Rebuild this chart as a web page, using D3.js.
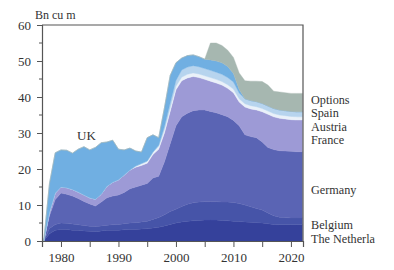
<!DOCTYPE html>
<html>
<head>
<meta charset="utf-8">
<script src="https://cdn.jsdelivr.net/npm/d3@7"></script>
<style>
body { margin: 0; background: #fff; }
text { font-family: "Liberation Serif", "DejaVu Serif", serif; fill: #333; }
</style>
</head>
<body>
<div id="main"></div>
<script>
var years = [1977, 1978, 1979, 1980, 1981, 1982, 1983, 1984, 1985, 1986,
             1987, 1988, 1989, 1990, 1991, 1992, 1993, 1994, 1995, 1996,
             1997, 1998, 1999, 2000, 2001, 2002, 2003, 2004, 2005, 2006,
             2007, 2008, 2009, 2010, 2011, 2012, 2013, 2014, 2015, 2016,
             2017, 2018, 2019, 2020, 2021, 2022];

// Bn cu m per year, bottom of the stack first
var netherlands = [0, 2, 3, 3.2, 3.2, 3, 3, 2.8, 2.7, 2.6,
                   2.8, 3, 3, 3, 3.1, 3.2, 3.2, 3.3, 3.4, 3.6,
                   3.8, 4.2, 4.6, 5, 5.3, 5.5, 5.6, 5.7, 5.8, 5.8,
                   5.8, 5.7, 5.6, 5.5, 5.4, 5.3, 5.2, 5.1, 5, 4.8,
                   4.6, 4.5, 4.5, 4.5, 4.5, 4.5];
var belgium = [0, 1.5, 1.6, 1.8, 1.7, 1.7, 1.5, 1.5, 1.4, 1.4,
               1.4, 1.4, 1.5, 1.6, 1.7, 1.8, 1.9, 2, 2.1, 2.4,
               2.7, 3.1, 3.6, 3.8, 4.3, 4.7, 5, 5.1, 5.1, 5.1,
               5.1, 5.1, 5.2, 5.2, 5, 4.7, 4.3, 3.9, 3.6, 3,
               2.4, 2.1, 2, 1.9, 1.9, 1.9];
var germany = [0, 3.5, 6.9, 8.3, 8.1, 7.8, 7.3, 6.7, 6.2, 5.7,
               6.6, 7.6, 8, 8.2, 8.7, 9.5, 9.9, 10.2, 10.5, 11.5,
               11.5, 14.7, 18.8, 23.2, 24.9, 25.3, 25.6, 25.6, 25.5, 25.1,
               24.7, 24.3, 23.7, 22.8, 21.6, 19.5, 19.5, 19.7, 18.9, 18.2,
               18.4, 18.5, 18.5, 18.5, 18.4, 18.4];
var france = [0, 1, 1.8, 1.7, 1.8, 1.8, 1.8, 1.8, 1.7, 1.9,
              2.2, 3.2, 3.8, 4.2, 4.8, 5.2, 5.5, 5.5, 5.6, 6.5,
              7.5, 8, 9, 10, 10, 9.8, 9.5, 9, 8.5, 8.4,
              8.3, 8.2, 7.9, 7.7, 6.6, 7.7, 7.7, 7.7, 8.4, 9.2,
              9.1, 9, 8.9, 8.8, 8.8, 8.8];
var austria = [0, 0, 0, 0, 0, 0, 0, 0, 0, 0,
               0, 0, 0, 0, 0, 0, 0.3, 0.5, 0.6, 0.7,
               0.8, 1, 1, 1, 1, 1, 1, 1, 1, 1,
               1, 1, 1, 1, 0.9, 0.9, 0.9, 0.9, 0.9, 0.9,
               0.9, 0.9, 0.9, 0.9, 0.9, 0.9];
var spain = [0, 0, 0, 0, 0, 0, 0, 0, 0, 0,
             0, 0, 0, 0, 0, 0, 0, 0, 0, 0,
             0.3, 0.8, 1.3, 1.6, 2, 2, 2, 2, 2, 2,
             2, 2, 2, 2, 1.6, 1.4, 1.4, 1.4, 1.4, 1.4,
             1.4, 1.4, 1.4, 1.4, 1.4, 1.4];
var uk = [0, 8, 11.2, 10.3, 10.4, 10.1, 11.9, 13.4, 13.3, 14.4,
          14.3, 12.3, 11.7, 8.5, 7, 6.1, 4.2, 3.2, 6.5, 4.8,
          2.1, 5.2, 7.7, 4.9, 3.3, 3.2, 3, 2.8, 2.6, 2.9,
          3.1, 3.2, 3.1, 2.3, 1, 0, 0, 0, 0, 0,
          0, 0, 0, 0, 0, 0];
var options = [0, 0, 0, 0, 0, 0, 0, 0, 0, 0,
               0, 0, 0, 0, 0, 0, 0, 0, 0, 0,
               0, 0, 0, 0, 0, 0, 0, 0, 0, 4.7,
               5, 4.8, 4.5, 4.5, 4.6, 5, 5.4, 5.7, 6.1, 5.8,
               4.8, 5, 5, 5, 5.1, 5.1];

var keys = ["netherlands", "belgium", "germany", "france", "austria", "spain", "uk", "options"];
var y_ticks = [0, 10, 20, 30, 40, 50, 60];
var x_ticks = [1980, 1985, 1990, 1995, 2000, 2005, 2010, 2015, 2020];
var legend_names = ["Options", "Spain", "Austria", "France", "Germany", "Belgium", "The Netherla"];

var vis = function(root) {
    var width = 394, height = 270;
    var left = 42, right = 303, top = 25, bottom = 241;
    var serif = "'Liberation Serif', 'DejaVu Serif', serif";

    var series = {netherlands: netherlands, belgium: belgium, germany: germany,
                  france: france, austria: austria, spain: spain, uk: uk, options: options};
    var table = years.map(function(yr, i) {
        var row = {year: yr};
        keys.forEach(function(k) { row[k] = series[k][i]; });
        return row;
    });

    var color = d3.scaleOrdinal()
            .domain(keys)
            .range(["#35419b", "#4654a8", "#5a64b4", "#9d9ad6",
                    "#eaf1f9", "#b7d4ee", "#70afe2", "#a6b7b0"]);

    var x = d3.scaleLinear().domain([1976.7, 2022.1]).range([left, right]);
    var y = d3.scaleLinear().domain([0, 60]).range([bottom, top]);

    var svg = root.append("svg")
            .attr("width", width)
            .attr("height", height);

    var stacked = d3.stack().keys(keys)(table);
    var area = d3.area()
            .x(function(d) { return x(d.data.year); })
            .y0(function(d) { return y(d[0]); })
            .y1(function(d) { return y(d[1]); });

    svg.append("g")
        .selectAll("path")
        .data(stacked)
        .enter()
        .append("path")
        .attr("d", area)
        .style("fill", function(d) { return color(d.key); })
        .style("stroke", function(d) { return color(d.key); })
        .style("stroke-width", 0.4);

    // frame on top and right
    svg.append("path")
        .attr("d", "M" + left + "," + top + "H" + right + "V" + bottom)
        .style("fill", "none")
        .style("stroke", "#555")
        .style("stroke-width", 1.2);

    var yaxis = svg.append("g")
            .attr("transform", "translate(" + left + ",0)")
            .call(d3.axisLeft(y).tickValues(y_ticks).tickSize(5).tickPadding(6));

    // minor ticks at the fives
    svg.append("g")
        .selectAll("line")
        .data(y_ticks.slice(0, -1))
        .enter()
        .append("line")
        .attr("x1", left - 3).attr("x2", left)
        .attr("y1", function(d) { return y(d + 5); })
        .attr("y2", function(d) { return y(d + 5); })
        .style("stroke", "#555");

    var xaxis = svg.append("g")
            .attr("transform", "translate(0," + bottom + ")")
            .call(d3.axisBottom(x).tickValues(x_ticks).tickSize(6).tickPadding(6)
                  .tickFormat(function(d) { return d % 10 == 0 ? d : ""; }));

    [yaxis, xaxis].forEach(function(ax) {
        ax.attr("font-family", serif).attr("font-size", 13);
        ax.select(".domain").style("stroke", "#555").style("stroke-width", 1.2);
        ax.selectAll(".tick line").style("stroke", "#555");
        ax.selectAll(".tick text")
            .style("font-family", serif)
            .style("font-size", "13px")
            .style("fill", "#333");
    });

    svg.append("text")
        .attr("x", 35).attr("y", 19)
        .style("font-size", "12px")
        .text("Bn cu m");

    svg.append("text")
        .attr("x", 77).attr("y", 140)
        .style("font-size", "13px")
        .text("UK");

    var legend_y = [99.5, 113, 126.5, 140, 190, 224.5, 238.5];
    svg.append("g")
        .selectAll("text")
        .data(legend_names)
        .enter()
        .append("text")
        .attr("x", 311)
        .attr("y", function(d, i) { return legend_y[i]; })
        .attr("dy", "0.35em")
        .style("font-size", "12.2px")
        .text(function(d) { return d; });
};

vis(d3.select("#main"));
</script>
</body>
</html>
